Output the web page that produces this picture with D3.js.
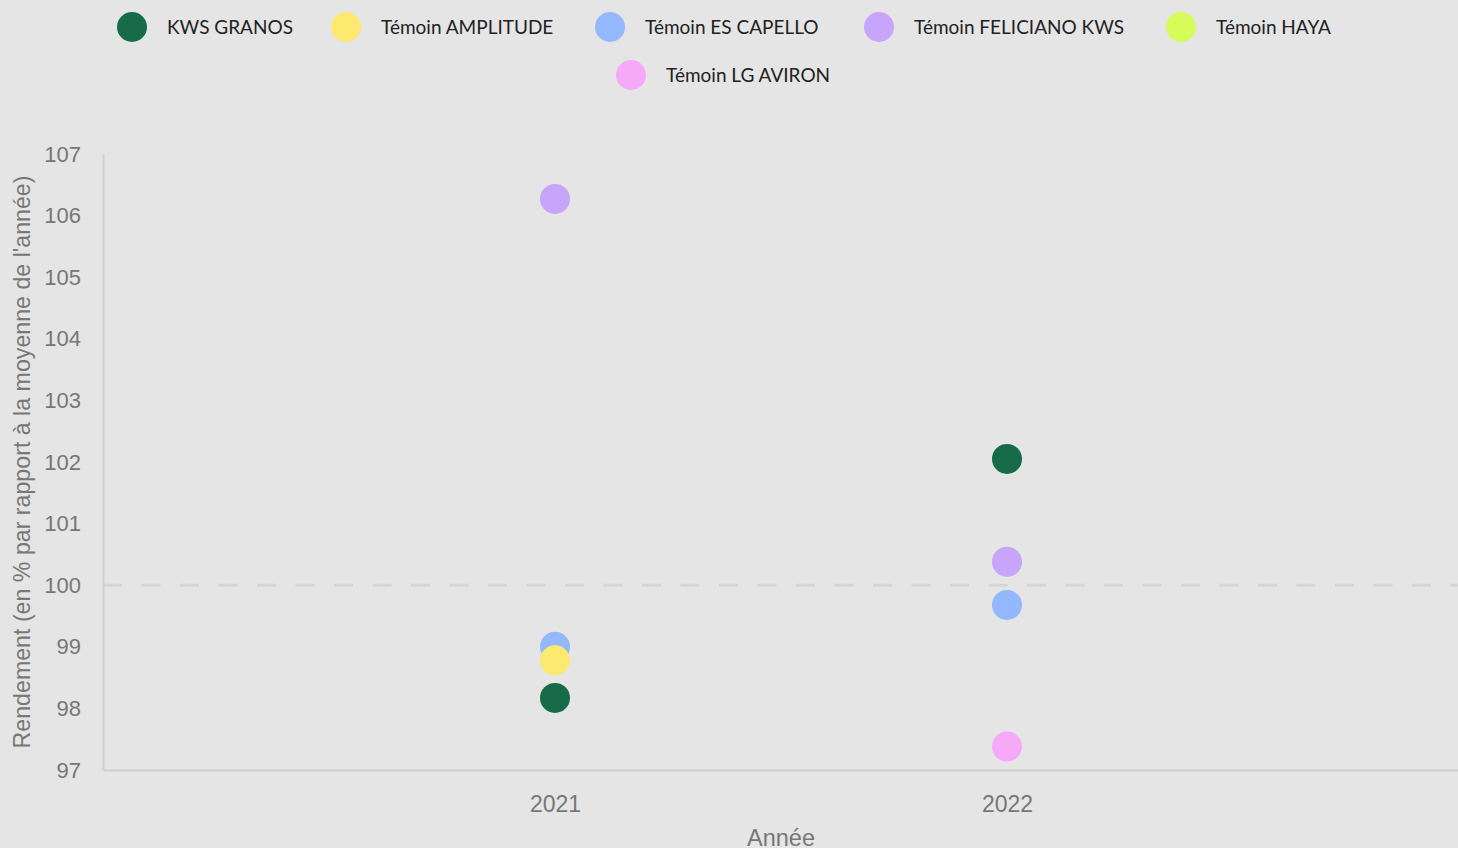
<!DOCTYPE html>
<html>
<head>
<meta charset="utf-8">
<title>Rendement</title>
<style>
  body { margin: 0; background: #e5e5e5; }
  svg { display: block; }
</style>
</head>
<body>
<svg width="1458" height="848"></svg>
<script src="https://d3js.org/d3.v7.min.js"></script>
<script>

// varieties (legend order) and their colours
const varieties = ["KWS GRANOS", "Témoin AMPLITUDE", "Témoin ES CAPELLO", "Témoin FELICIANO KWS", "Témoin HAYA", "Témoin LG AVIRON"]
const colors = ["#176b48", "#fde870", "#94b8fd", "#c7a5fb", "#d6fc59", "#f6a9f8"]
const years = [2021, 2022]
const yTicks = [97, 98, 99, 100, 101, 102, 103, 104, 105, 106, 107]

// values per year (null = no trial)
const values2021 = [98.17, 98.78, 99.0, 106.27, null, null]
const values2022 = [102.05, null, 99.68, 100.38, null, 97.38]

const points = []
;[values2021, values2022].forEach((vals, j) => {
  vals.forEach((v, i) => {
    if (v != null) points.push({ year: years[j], idx: i, name: varieties[i], value: v, color: colors[i] })
  })
})
// blue sits under yellow in the reference
points.sort((a, b) => (a.idx === 2 ? -1 : 0) - (b.idx === 2 ? -1 : 0))

const svg = d3.select("svg")
const width = 1458, height = 848
const margin = { top: 154, right: -1, bottom: 78, left: 103 }

const x = d3.scaleLinear()
  .domain([2020, 2023])
  .range([margin.left, width - margin.right])

const y = d3.scaleLinear()
  .domain([97, 107])
  .range([height - margin.bottom, margin.top])

const axisColor = "#cfcfcf"
const textColor = "#777"

// reference line at 100
svg.append("line")
  .attr("x1", x(2020)).attr("x2", x(2023))
  .attr("y1", y(100)).attr("y2", y(100))
  .attr("stroke", "#d6d6d6")
  .attr("stroke-width", 3)
  .attr("stroke-dasharray", "19,19.5")

// y axis
const gy = svg.append("g")
  .attr("transform", `translate(${margin.left},0)`)
  .call(d3.axisLeft(y).tickValues(yTicks).tickSize(0).tickPadding(22).tickFormat(d3.format("d")))
gy.select(".domain").attr("stroke", axisColor).attr("stroke-width", 2)
gy.selectAll("text")
  .attr("fill", textColor)
  .attr("font-family", "Liberation Sans, Arial, sans-serif")
  .attr("font-size", 22)

// x axis
const gx = svg.append("g")
  .attr("transform", `translate(0,${height - margin.bottom})`)
  .call(d3.axisBottom(x).tickValues(years).tickSize(0).tickPadding(26).tickFormat(d3.format("d")))
gx.select(".domain").attr("stroke", axisColor).attr("stroke-width", 2)
gx.selectAll("text")
  .attr("fill", textColor)
  .attr("font-family", "Liberation Sans, Arial, sans-serif")
  .attr("font-size", 23)

// axis titles
svg.append("text")
  .attr("transform", `translate(30,${(y(97) + y(107)) / 2}) rotate(-90)`)
  .attr("text-anchor", "middle")
  .attr("fill", textColor)
  .attr("font-family", "Liberation Sans, Arial, sans-serif")
  .attr("font-size", 23.2)
  .text("Rendement (en % par rapport à la moyenne de l'année)")

svg.append("text")
  .attr("x", (x(2020) + x(2023)) / 2)
  .attr("y", 846)
  .attr("text-anchor", "middle")
  .attr("fill", textColor)
  .attr("font-family", "Liberation Sans, Arial, sans-serif")
  .attr("font-size", 23.5)
  .text("Année")

// points
svg.append("g")
  .selectAll("circle")
  .data(points)
  .join("circle")
    .attr("cx", d => x(d.year))
    .attr("cy", d => y(d.value))
    .attr("r", 15)
    .attr("fill", d => d.color)

// legend
const legendPos = [[132, 27], [346, 27], [610, 27], [879, 27], [1181, 27], [631, 75]]
const legend = svg.append("g")
  .selectAll("g")
  .data(varieties)
  .join("g")
    .attr("transform", (d, i) => `translate(${legendPos[i][0]},${legendPos[i][1]})`)
legend.append("circle")
  .attr("r", 15)
  .attr("fill", (d, i) => colors[i])
legend.append("text")
  .attr("x", 35)
  .attr("dy", "0.35em")
  .attr("fill", "#222")
  .attr("font-family", "Lato, sans-serif")
  .attr("font-size", 19)
  .text(d => d)

</script>
</body>
</html>
